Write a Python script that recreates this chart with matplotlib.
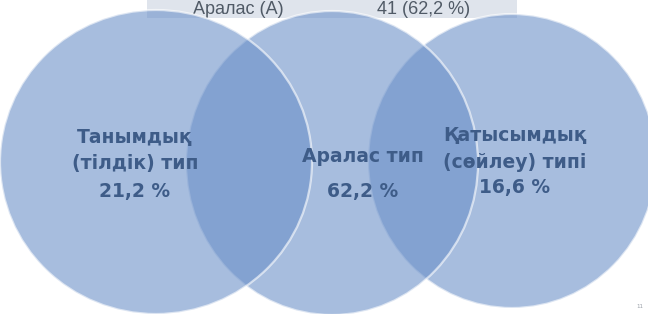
import matplotlib

matplotlib.use("Agg")
import matplotlib.pyplot as plt  # noqa: E402
from matplotlib.patches import Ellipse, Rectangle  # noqa: E402

# header row of the table behind the diagram
header_labels = ["Аралас (А)", "41 (62,2 %)"]

# Venn circles: label lines and shares (%)
circle_titles = [
    ["Танымдық", "(тілдік) тип"],
    ["Аралас тип"],
    ["Қатысымдық", "(сөйлеу) типі"],
]
circle_shares = [21.2, 62.2, 16.6]
slide_number = "11"

W, H = 648, 314
FILL = (108 / 255, 145 / 255, 201 / 255)
TEXT = "#3e5c88"


def _fmt(value: float) -> str:
    return f"{value:.1f}".replace(".", ",") + " %"


def main() -> None:
    fig = plt.figure(figsize=(W / 100, H / 100), dpi=100)
    ax = fig.add_axes([0, 0, 1, 1])
    ax.set_xlim(0, W)
    ax.set_ylim(H, 0)
    ax.axis("off")

    ax.add_patch(Rectangle((147, -2), 370, 20, facecolor="#dfe4ec", edgecolor="none", zorder=0))
    ax.text(238, 14, header_labels[0], ha="center", va="baseline", fontsize=13,
            color="#505a66", family="Liberation Sans", zorder=1)
    ax.text(424, 14, header_labels[1], ha="center", va="baseline", fontsize=13,
            color="#505a66", family="Liberation Sans", zorder=1)

    # (cx, cy, rx, ry, zorder) for left, middle, right circles
    shapes = [
        (156, 162, 156, 152, 4),
        (332, 163, 146, 152, 3),
        (512, 161, 144, 147, 2),
    ]
    for cx, cy, rx, ry, z in shapes:
        ax.add_patch(Ellipse((cx, cy), 2 * rx, 2 * ry, facecolor=FILL, edgecolor="white",
                             linewidth=1.6, alpha=0.6, zorder=z))

    # (x, first line y, line step, share y)
    text_pos = [(135, 138, 25, 192), (363, 157, 25, 192), (515, 135, 27, 188)]
    for lines, share, (tx, ty, step, sy) in zip(circle_titles, circle_shares, text_pos):
        for i, line in enumerate(lines):
            ax.text(tx, ty + i * step, line, ha="center", va="center", fontsize=13.5,
                    fontweight="bold", color=TEXT, family="DejaVu Sans", zorder=6)
        ax.text(tx, sy, _fmt(share), ha="center", va="center", fontsize=13.5,
                fontweight="bold", color=TEXT, family="DejaVu Sans", zorder=6)

    ax.text(640, 307, slide_number, ha="center", va="center", fontsize=4, color="#9aa0a8")

    fig.savefig("out.png", dpi=100)
    plt.close(fig)


if __name__ == "__main__":
    main()
